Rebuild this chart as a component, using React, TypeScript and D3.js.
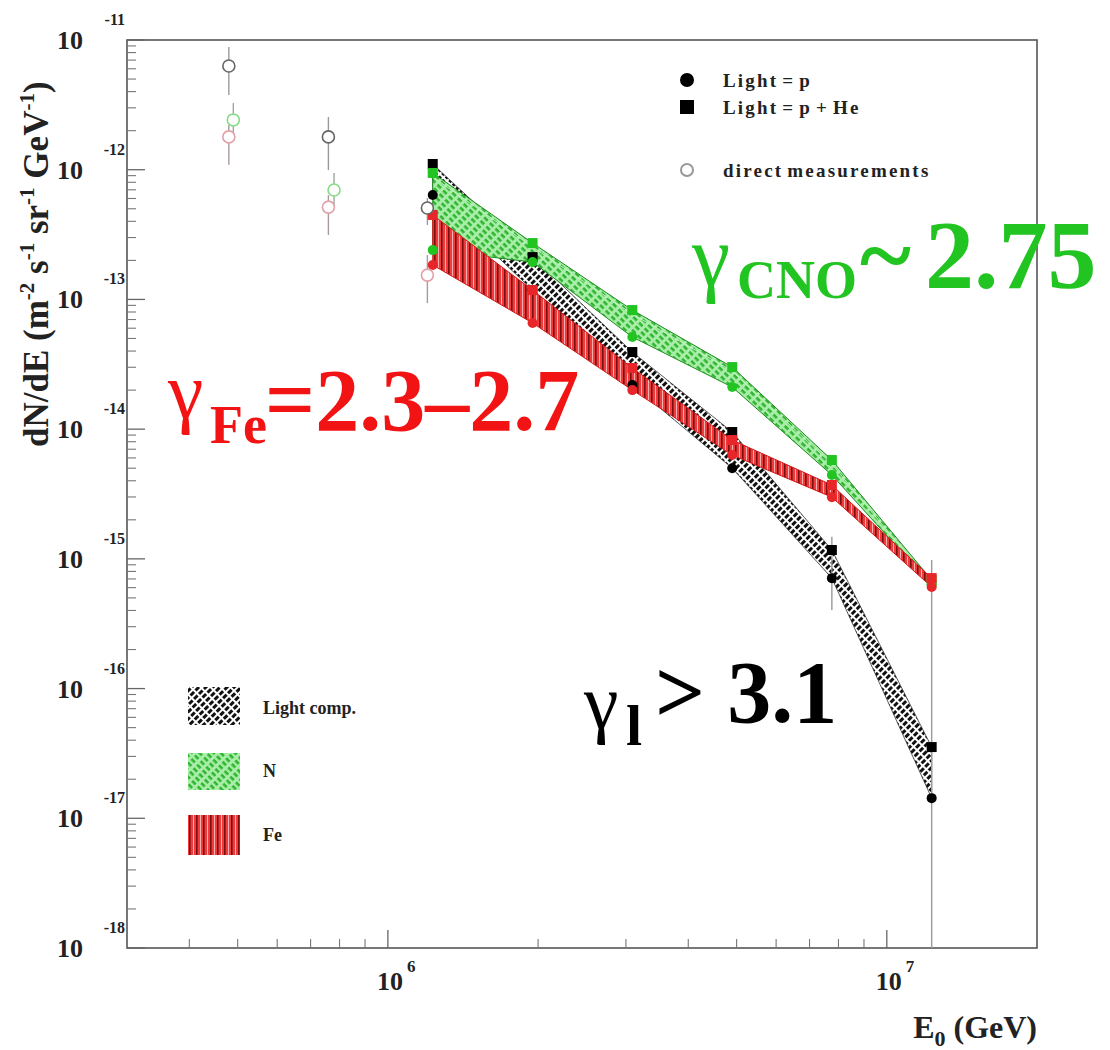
import React from 'react';
import * as d3 from 'd3';

// ---------- data ----------
const energies = [1.23e6, 1.95e6, 3.09e6, 4.9e6, 7.76e6, 1.23e7];
const lightPHe = [1.107e-12, 2.12e-13, 3.93e-14, 9.5e-15, 1.17e-15, 3.54e-17];
const lightP = [6.38e-13, 1.18e-13, 2.19e-14, 5.0e-15, 7.1e-16, 1.43e-17];
const nUpper = [9.44e-13, 2.72e-13, 8.28e-14, 3.01e-14, 5.78e-15, 6.87e-16];
const nLower = [2.4e-13, 1.94e-13, 5.13e-14, 2.11e-14, 4.43e-15, 6.28e-16];
const feUpper = [4.48e-13, 1.18e-13, 2.96e-14, 8.24e-15, 3.71e-15, 7.11e-16];
const feLower = [1.84e-13, 6.58e-14, 2.0e-14, 6.31e-15, 2.99e-15, 6.07e-16];

const errE = [7.76e6, 1.23e7];
const errHi = [1.48e-15, 9.8e-16];
const errLo = [4.03e-16, 1e-18];

const directE = [4.8e5, 7.6e5, 1.2e6];
const directAll = [6.3e-12, 1.79e-12, 5.07e-13];
const directAllHi = [8.84e-12, 2.55e-12, 6.05e-13];
const directAllLo = [3.77e-12, 9.95e-13, 3.75e-13];
const directNE = [4.9e5, 7.8e5];
const directN = [2.42e-12, 6.97e-13];
const directNHi = [3.27e-12, 9.44e-13];
const directNLo = [1.69e-12, 5.15e-13];
const directFe = [1.79e-12, 5.15e-13, 1.54e-13];
const directFeHi = [2.21e-12, 6.38e-13, 2.2e-13];
const directFeLo = [1.09e-12, 3.14e-13, 9.37e-14];

const yDecades = [-11, -12, -13, -14, -15, -16, -17, -18];
const xDecades = [6, 7];
const markerLegend = ['Light = p', 'Light = p + He', 'direct measurements'];
const bandLegend = ['Light comp.', 'N', 'Fe'];

// ---------- layout ----------
const W = 1110;
const H = 1050;
const L = 127, R = 1037, T = 40, B = 948;
const SERIF = '"Liberation Serif", "DejaVu Serif", serif';

const x = d3.scaleLog().domain([3e5, 2e7]).range([L, R]);
const y = d3.scaleLog().domain([1e-18, 1e-11]).range([B, T]);

const GREEN = '#22c422';
const RED = '#e8262a';
const RED_TXT = '#f21414';

function band(upper: number[], lower: number[]) {
  const pts = energies.map((e, i) => ({ e, u: upper[i], l: lower[i] }));
  return d3
    .area<{ e: number; u: number; l: number }>()
    .x((d) => x(d.e))
    .y0((d) => y(d.l))
    .y1((d) => y(d.u))(pts) as string;
}
function line(vals: number[]) {
  return d3
    .line<number>()
    .x((_, i) => x(energies[i]))
    .y((v) => y(v))(vals) as string;
}

export default function App() {
  const yMinor: number[] = [];
  for (let d = -18; d < -11; d++) for (let m = 2; m <= 9; m++) yMinor.push(m * Math.pow(10, d));
  const xMinor: number[] = [];
  for (let d = 5; d <= 7; d++)
    for (let m = 2; m <= 9; m++) {
      const v = m * Math.pow(10, d);
      if (v > 3e5 && v < 2e7) xMinor.push(v);
    }

  const bold = { fontFamily: SERIF, fontWeight: 700 as const };
  const greek = { fontFamily: SERIF, fontWeight: 400 as const };

  return (
    <div style={{ position: 'absolute', left: 0, top: 0 }}>
      <svg width={W} height={H} viewBox={`0 0 ${W} ${H}`} style={{ display: 'block', background: '#fff' }}>
        <defs>
          <pattern id="hatchBlack" width="7" height="5" patternUnits="userSpaceOnUse" patternTransform="rotate(-45)">
            <rect width="7" height="5" fill="#fff" />
            <rect x="0" y="0" width="5" height="3" fill="#111" />
          </pattern>
          <pattern id="hatchGreen" width="8" height="5" patternUnits="userSpaceOnUse" patternTransform="rotate(45)">
            <rect width="8" height="5" fill="#a8eea8" />
            <rect x="0" y="0" width="5" height="2.6" fill="#2fb52f" />
          </pattern>
          <pattern id="hatchRed" width="7" height="10" patternUnits="userSpaceOnUse">
            <rect width="7" height="10" fill="#ef3b3b" />
            <rect x="0" y="0" width="1.6" height="10" fill="#7a0d0d" />
            <rect x="4" y="0" width="1" height="10" fill="#f8b0b0" />
          </pattern>
        </defs>

        {/* frame */}
        <rect x={L} y={T} width={R - L} height={B - T} fill="none" stroke="#555" strokeWidth={1.6} />

        {/* y ticks */}
        {yDecades.map((d) => (
          <line key={'yM' + d} x1={L} x2={L + 18} y1={y(Math.pow(10, d))} y2={y(Math.pow(10, d))} stroke="#666" strokeWidth={1.3} />
        ))}
        {yMinor.map((v, i) => (
          <line key={'ym' + i} x1={L} x2={L + 9} y1={y(v)} y2={y(v)} stroke="#777" strokeWidth={1.1} />
        ))}
        {/* x ticks */}
        {xDecades.map((d) => (
          <line key={'xM' + d} x1={x(Math.pow(10, d))} x2={x(Math.pow(10, d))} y1={B} y2={B - 18} stroke="#666" strokeWidth={1.3} />
        ))}
        {xMinor.map((v, i) => (
          <line key={'xm' + i} x1={x(v)} x2={x(v)} y1={B} y2={B - 9} stroke="#777" strokeWidth={1.1} />
        ))}

        {/* y tick labels */}
        {yDecades.map((d) => {
          const yy = y(Math.pow(10, d));
          return (
            <g key={'yl' + d} {...bold} fill="#222">
              <text x={83} y={yy + 9} fontSize={26} textAnchor="end">10</text>
              <text x={125} y={yy - 15} fontSize={16} textAnchor="end">{String(d)}</text>
            </g>
          );
        })}
        {/* x tick labels */}
        {xDecades.map((d) => {
          const xx = x(Math.pow(10, d));
          return (
            <g key={'xl' + d} {...bold} fill="#222">
              <text x={xx + 2} y={990} fontSize={26} textAnchor="middle">10</text>
              <text x={xx + 19} y={972} fontSize={17}>{String(d)}</text>
            </g>
          );
        })}

        {/* axis titles */}
        <text x={R} y={1038} textAnchor="end" {...bold} fontSize={32} fill="#222">
          E<tspan fontSize={22} dy={8}>0</tspan>
          <tspan dy={-8}> (GeV)</tspan>
        </text>
        <text transform={`translate(48,447) rotate(-90)`} {...bold} fontSize={35} fill="#222">
          dN/dE (m<tspan fontSize={21} dy={-14}>-2</tspan>
          <tspan dy={14}> s</tspan>
          <tspan fontSize={21} dy={-14}>-1</tspan>
          <tspan dy={14}> sr</tspan>
          <tspan fontSize={21} dy={-14}>-1</tspan>
          <tspan dy={14}> GeV</tspan>
          <tspan fontSize={21} dy={-14}>-1</tspan>
          <tspan dy={14}>)</tspan>
        </text>

        {/* direct measurements */}
        {directE.map((e, i) => (
          <line key={'dae' + i} x1={x(e)} x2={x(e)} y1={y(directAllHi[i])} y2={y(directAllLo[i])} stroke="#9a9a9a" strokeWidth={1.4} />
        ))}
        {directNE.map((e, i) => (
          <line key={'dne' + i} x1={x(e)} x2={x(e)} y1={y(directNHi[i])} y2={y(directNLo[i])} stroke="#9aaa9a" strokeWidth={1.4} />
        ))}
        {directE.map((e, i) => (
          <line key={'dfe' + i} x1={x(e)} x2={x(e)} y1={y(directFeHi[i])} y2={y(directFeLo[i])} stroke="#aa9a9a" strokeWidth={1.4} />
        ))}

        {/* bands */}
        <path d={band(lightPHe, lightP)} fill="url(#hatchBlack)" stroke="#333" strokeWidth={0.8} />
        <path d={band(nUpper, nLower)} fill="url(#hatchGreen)" stroke="#1e8a1e" strokeWidth={1} />
        <path d={line(nUpper)} fill="none" stroke="#bff5bf" strokeWidth={1} transform="translate(0,4)" />
        <path d={band(feUpper, feLower)} fill="url(#hatchRed)" stroke="#d01818" strokeWidth={1} />

        {/* error bars */}
        {errE.map((e, i) => (
          <line key={'err' + i} x1={x(e)} x2={x(e)} y1={y(errHi[i])} y2={y(errLo[i])} stroke="#999" strokeWidth={1.4} />
        ))}

        {/* markers */}
        {energies.map((e, i) => (
          <g key={'mk' + i}>
            <rect x={x(e) - 5} y={y(lightPHe[i]) - 5} width={10} height={10} fill="#000" />
            <circle cx={x(e)} cy={y(lightP[i])} r={5} fill="#000" />
            <rect x={x(e) - 5} y={y(nUpper[i]) - 5} width={10} height={10} fill={GREEN} />
            <circle cx={x(e)} cy={y(nLower[i])} r={5} fill={GREEN} />
            <rect x={x(e) - 5} y={y(feUpper[i]) - 5} width={10} height={10} fill={RED} />
            <circle cx={x(e)} cy={y(feLower[i])} r={5} fill={RED} />
          </g>
        ))}

        {/* direct measurement open circles */}
        {directE.map((e, i) => (
          <circle key={'da' + i} cx={x(e)} cy={y(directAll[i])} r={6} fill="#fff" stroke="#666" strokeWidth={1.6} />
        ))}
        {directNE.map((e, i) => (
          <circle key={'dn' + i} cx={x(e)} cy={y(directN[i])} r={6} fill="#fff" stroke="#86dc86" strokeWidth={1.6} />
        ))}
        {directE.map((e, i) => (
          <circle key={'df' + i} cx={x(e)} cy={y(directFe[i])} r={6} fill="#fff" stroke="#e2a0aa" strokeWidth={1.6} />
        ))}

        {/* top-right legend */}
        <circle cx={687} cy={80} r={7} fill="#000" />
        <rect x={680} y={100} width={14} height={14} fill="#000" />
        <circle cx={687} cy={170} r={6} fill="#fff" stroke="#999" strokeWidth={2} />
        {markerLegend.map((t, i) => (
          <text key={'ml' + i} x={723} y={[87, 114, 177][i]} {...bold} fontSize={19} letterSpacing={2.2} wordSpacing={-3} fill="#222">{t}</text>
        ))}

        {/* bottom-left legend */}
        <rect x={188} y={687} width={52} height={38} fill="url(#hatchBlack)" />
        <rect x={188} y={753} width={52} height={37} fill="url(#hatchGreen)" />
        <rect x={188} y={815} width={52} height={40} fill="url(#hatchRed)" />
        {bandLegend.map((t, i) => (
          <text key={'bl' + i} x={263} y={[714, 777, 841][i]} {...bold} fontSize={18} fill="#222">{t}</text>
        ))}

        {/* annotations */}
        <g fill={GREEN}>
          <text x={692} y={285} fontSize={86} {...greek}>γ</text>
          <text x={737} y={298} fontSize={54} {...bold}>CNO</text>
          <text x={860} y={288} fontSize={98} {...bold}>~</text>
          <text x={925} y={288} fontSize={98} {...bold}>2.75</text>
        </g>
        <g fill={RED_TXT}>
          <text x={168} y={418} fontSize={80} {...greek}>γ</text>
          <text x={210} y={443} fontSize={54} {...bold}>Fe</text>
          <text x={265} y={430} fontSize={88} {...bold}>=2.3–2.7</text>
        </g>
        <g fill="#000">
          <text x={584} y={728} fontSize={78} {...greek}>γ</text>
          <text x={626} y={745} fontSize={58} {...bold}>l</text>
          <text x={655} y={722} fontSize={88} {...bold}>&gt; 3.1</text>
        </g>
      </svg>
    </div>
  );
}
